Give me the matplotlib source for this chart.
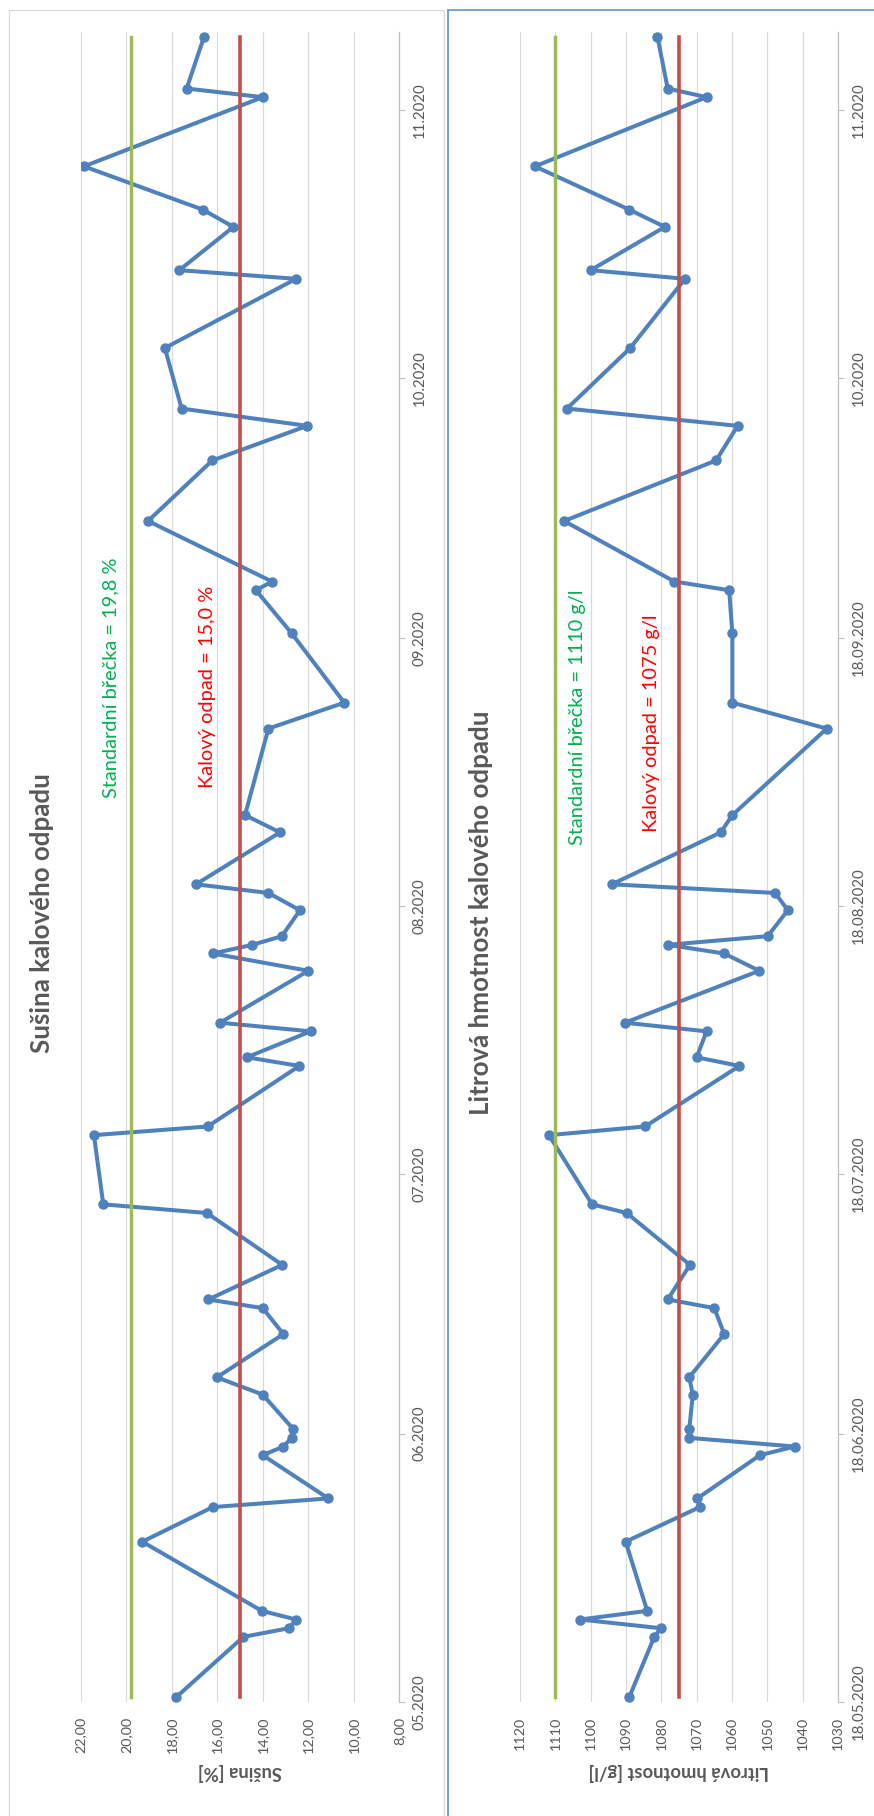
import matplotlib
matplotlib.use('Agg')
import matplotlib.pyplot as plt
import matplotlib.dates as mdates
import numpy as np
from datetime import datetime
from matplotlib.patches import Rectangle

plt.rcParams['font.family'] = ['Lato', 'DejaVu Sans']

# odběry vzorků
sample_dates = [
    '18.05.2020', '25.05.2020', '26.05.2020', '27.05.2020', '28.05.2020',
    '05.06.2020', '09.06.2020', '10.06.2020', '15.06.2020', '16.06.2020',
    '17.06.2020', '18.06.2020', '22.06.2020', '24.06.2020', '29.06.2020',
    '02.07.2020', '03.07.2020', '07.07.2020', '13.07.2020', '14.07.2020',
    '22.07.2020', '23.07.2020', '30.07.2020', '31.07.2020', '03.08.2020',
    '04.08.2020', '10.08.2020', '12.08.2020', '13.08.2020', '14.08.2020',
    '17.08.2020', '19.08.2020', '20.08.2020', '26.08.2020', '28.08.2020',
    '07.09.2020', '10.09.2020', '18.09.2020', '23.09.2020', '24.09.2020',
    '01.10.2020', '08.10.2020', '12.10.2020', '14.10.2020', '21.10.2020',
    '29.10.2020', '30.10.2020', '04.11.2020', '06.11.2020', '11.11.2020',
    '19.11.2020', '20.11.2020', '26.11.2020',
]

# sušina [%]
susina = [
    17.82, 14.85, 12.83, 12.53, 14.04,
    19.30, 16.20, 11.11, 14.00, 13.09,
    12.72, 12.65, 14.00, 16.02, 13.09,
    14.00, 16.39, 13.14, 16.46, 21.02,
    21.43, 16.42, 12.39, 14.70, 11.89,
    15.88, 11.99, 16.20, 14.46, 13.16,
    12.36, 13.75, 16.94, 13.24, 14.78,
    13.75, 10.41, 12.72, 14.30, 13.59,
    19.05, 16.22, 12.04, 17.57, 18.31,
    12.53, 17.67, 15.29, 16.64, 21.87,
    14.00, 17.35, 16.58,
]

# litrová hmotnost [g/l]
litrova = [
    1089.1, 1082.0, 1080.2, 1103.0, 1084.0,
    1090.1, 1069.1, 1069.8, 1052.1, 1042.2,
    1072.1, 1072.1, 1071.1, 1072.1, 1062.2,
    1065.0, 1078.2, 1071.9, 1089.8, 1099.6,
    1111.8, 1084.6, 1057.9, 1070.0, 1067.2,
    1090.3, 1052.3, 1062.2, 1078.2, 1049.9,
    1044.2, 1047.8, 1094.0, 1063.2, 1059.9,
    1033.2, 1059.9, 1059.9, 1060.8, 1076.3,
    1107.5, 1064.5, 1058.4, 1106.7, 1088.8,
    1073.3, 1100.0, 1079.0, 1089.1, 1115.8,
    1067.2, 1078.2, 1081.1,
]

susina_standard = 19.8
susina_odpad = 15.0
litrova_standard = 1110
litrova_odpad = 1075

tick_dates = ['18.05.2020', '18.06.2020', '18.07.2020', '18.08.2020',
              '18.09.2020', '18.10.2020', '18.11.2020']
susina_date_labels = ['05.2020', '06.2020', '07.2020', '08.2020',
                      '09.2020', '10.2020', '11.2020']
litrova_date_labels = ['18.05.2020', '18.06.2020', '18.07.2020', '18.08.2020',
                       '18.09.2020', '10.2020', '11.2020']

TEXT = '#595959'
BLUE = '#4F81BD'
GREEN = '#9BBB59'
RED = '#C0504D'
W, H = 874, 1816


def to_num(labels):
    return mdates.date2num([datetime.strptime(s, '%d.%m.%Y') for s in labels])


def fx(x):
    return x / W


def fy(y):
    return 1 - y / H


days = to_num(sample_dates)
ticks = to_num(tick_dates) - 0.5

fig = plt.figure(figsize=(W / 100, H / 100), dpi=100)

# rámečky grafů
fig.add_artist(Rectangle((fx(9), -0.05), fx(444) - fx(9), fy(10) + 0.05,
                         transform=fig.transFigure, fill=False,
                         edgecolor='#D9D9D9', linewidth=0.9))
fig.add_artist(Rectangle((fx(448), -0.05), 0.6, fy(10.5) + 0.05,
                         transform=fig.transFigure, fill=False,
                         edgecolor='#6A9BD8', linewidth=1.3))


def draw_panel(left, values, standard, odpad, vmin, vmax, step, fmt,
               date_labels, axis_title, std_text, odpad_text):
    ax = fig.add_axes([fx(left), fy(1701.7), 318 / W, (1701.7 - 32.3) / H])
    ax.plot(values, days, color=BLUE, linewidth=2.9, marker='o',
            markersize=6.5, solid_joinstyle='round', zorder=3)
    ax.plot([standard, standard], [days[0], days[-1]], color=GREEN,
            linewidth=2.5, zorder=4)
    ax.plot([odpad, odpad], [days[0], days[-1]], color=RED,
            linewidth=2.6, zorder=4)

    ax.set_xlim(vmax, vmin)
    ax.set_ylim(days[0] - 0.5, days[-1] + 0.5)
    ax.set_xticks(np.arange(vmin, vmax + step / 2, step))
    ax.xaxis.set_major_formatter(plt.FuncFormatter(fmt))
    ax.grid(axis='x', color='#D9D9D9', linewidth=0.8)
    ax.set_axisbelow(True)
    ax.tick_params(axis='x', length=0, pad=11, labelsize=10.4,
                   labelcolor=TEXT, labelrotation=90)

    ax.yaxis.tick_right()
    ax.set_yticks(ticks)
    ax.set_yticklabels(date_labels, rotation=90, va='center')
    ax.tick_params(axis='y', length=4, width=0.8, color='#BFBFBF', pad=6,
                   labelsize=10.8, labelcolor=TEXT)

    for side in ('top', 'left', 'bottom'):
        ax.spines[side].set_visible(False)
    ax.spines['right'].set_color('#BFBFBF')
    ax.spines['right'].set_linewidth(0.9)

    fig.text(fx(left + 159), fy(1772), axis_title, rotation=180,
             ha='center', va='center', fontsize=13.2, fontweight='bold',
             color=TEXT)
    x_std = left + (vmax - standard) / (vmax - vmin) * 318
    x_odp = left + (vmax - odpad) / (vmax - vmin) * 318
    return ax, x_std, x_odp


ax1, s1, o1 = draw_panel(81, susina, susina_standard, susina_odpad,
                         8, 22, 2, lambda v, p: f'{v:.2f}'.replace('.', ','),
                         susina_date_labels, 'Sušina [%]', '', '')
ax2, s2, o2 = draw_panel(520, litrova, litrova_standard, litrova_odpad,
                         1030, 1120, 10, lambda v, p: f'{v:.0f}',
                         litrova_date_labels, 'Litrová hmotnost [g/l]', '', '')

fig.text(fx(42), fy(913), 'Sušina kalového odpadu', rotation=90,
         ha='center', va='center', fontsize=18.6, fontweight='bold',
         color=TEXT)
fig.text(fx(481), fy(913), 'Litrová hmotnost kalového odpadu', rotation=90,
         ha='center', va='center', fontsize=18.6, fontweight='bold',
         color=TEXT)

fig.text(fx(111), fy(798), 'Standardní břečka = 19,8 %', rotation=90,
         ha='center', va='bottom', fontsize=14.4, color='#00B050')
fig.text(fx(207), fy(788), 'Kalový odpad = 15,0 %', rotation=90,
         ha='center', va='bottom', fontsize=14.4, color='#FF0000')
fig.text(fx(577), fy(845), 'Standardní břečka = 1110 g/l', rotation=90,
         ha='center', va='bottom', fontsize=14.4, color='#00B050')
fig.text(fx(651), fy(832), 'Kalový odpad = 1075 g/l', rotation=90,
         ha='center', va='bottom', fontsize=14.4, color='#FF0000')

fig.savefig('out.png', dpi=100)
